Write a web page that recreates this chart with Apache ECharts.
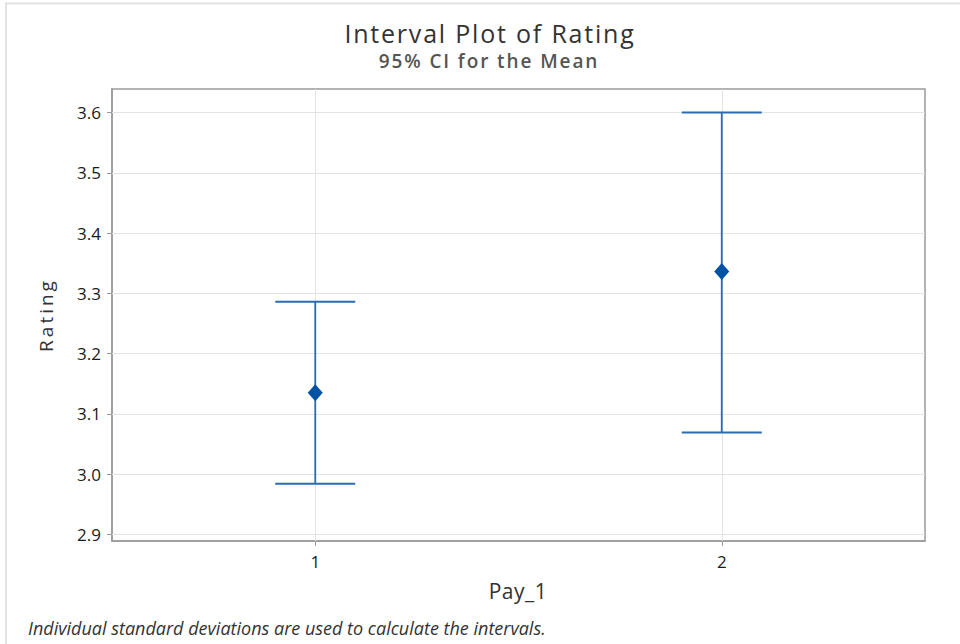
<!DOCTYPE html>
<html>
<head>
<meta charset="utf-8">
<script src="https://cdn.jsdelivr.net/npm/echarts@6/dist/echarts.min.js"></script>
<style>html,body{margin:0;padding:0;background:#fff}#c{width:960px;height:644px}</style>
</head>
<body>
<div id="c"></div>
<script>
const categories = ['1', '2'];
const means = [3.135, 3.336];
const lowers = [2.984, 3.069];
const uppers = [3.286, 3.600];
const yTicks = [2.9, 3.0, 3.1, 3.2, 3.3, 3.4, 3.5, 3.6];
const yMin = 2.889, yMax = 3.639;
const titleText = 'Interval Plot of Rating';
const subtitleText = '95% CI for the Mean';
const xName = 'Pay_1';
const yName = 'Rating';
const footnote = 'Individual standard deviations are used to calculate the intervals.';

const FONT = '"Open Sans", "Noto Sans", sans-serif';
const LINE = '#2a6bb5';
const MARK = '#0053a4';

const chart = echarts.init(document.getElementById('c'), null, { renderer: 'svg' });
const option = {
  animation: false,
  backgroundColor: '#fff',
  grid: { left: 112, right: 35, top: 89, bottom: 103, show: true, borderColor: '#9a9a9a', borderWidth: 1.5, backgroundColor: 'transparent' },
  xAxis: {
    type: 'category', data: categories, boundaryGap: true,
    axisLine: { show: true, lineStyle: { color: '#9a9a9a', width: 1.5 } },
    axisTick: { show: true, alignWithLabel: true, length: 5, lineStyle: { color: '#9a9a9a' } },
    axisLabel: { fontFamily: FONT, fontSize: 17, color: '#1a1a1a', margin: 12 },
    splitLine: { show: false }
  },
  yAxis: {
    type: 'value', min: yMin, max: yMax,
    axisLine: { show: true, lineStyle: { color: '#9a9a9a', width: 1.5 } },
    axisTick: { show: true, length: 5, customValues: yTicks, lineStyle: { color: '#9a9a9a' } },
    axisLabel: { fontFamily: FONT, fontSize: 17, color: '#1a1a1a', margin: 11, customValues: yTicks, formatter: v => v.toFixed(1) },
    splitLine: { show: false }
  },
  series: [
    {
      type: 'line', data: [], silent: true, z: 1,
      markLine: {
        silent: true, symbol: 'none', animation: false, z: 1,
        label: { show: false },
        lineStyle: { color: '#e3e3e3', width: 1, type: 'solid' },
        data: yTicks.map(v => ({ yAxis: v })).concat(categories.map(c => ({ xAxis: c })))
      }
    },
    {
      type: 'custom', z: 6,
      data: categories.map((c, i) => [i, lowers[i], uppers[i]]),
      renderItem: function (params, api) {
        const x = api.value(0);
        const lo = api.coord([x, api.value(1)]);
        const hi = api.coord([x, api.value(2)]);
        const hw = 40;
        const st = { stroke: LINE, lineWidth: 1.8 };
        return {
          type: 'group',
          children: [
            { type: 'line', shape: { x1: lo[0], y1: lo[1], x2: hi[0], y2: hi[1] }, style: st },
            { type: 'line', shape: { x1: lo[0] - hw, y1: lo[1], x2: lo[0] + hw, y2: lo[1] }, style: st },
            { type: 'line', shape: { x1: hi[0] - hw, y1: hi[1], x2: hi[0] + hw, y2: hi[1] }, style: st }
          ]
        };
      }
    },
    {
      type: 'scatter', z: 7, symbol: 'diamond', symbolSize: [15, 17],
      itemStyle: { color: MARK, opacity: 1 },
      data: categories.map((c, i) => [i, means[i]])
    }
  ],
  graphic: [
    { type: 'polyline', shape: { points: [[6, 644], [6, 3.5], [960, 3.5]] }, style: { stroke: '#e2e2e2', lineWidth: 2, fill: null } },
    { type: 'text', x: 490, y: 33, style: { text: titleText, textAlign: 'center', textVerticalAlign: 'middle', font: '25px "Open Sans", "Noto Sans", sans-serif', fill: '#333' } },
    { type: 'text', x: 489, y: 61, style: { text: subtitleText, textAlign: 'center', textVerticalAlign: 'middle', font: '600 19px "Open Sans", "Noto Sans", sans-serif', fill: '#555' } },
    { type: 'text', x: 46, y: 315, rotation: Math.PI / 2, style: { text: yName, textAlign: 'center', textVerticalAlign: 'middle', font: '19px "Open Sans", "Noto Sans", sans-serif', fill: '#333' } },
    { type: 'text', x: 518, y: 591, style: { text: xName, textAlign: 'center', textVerticalAlign: 'middle', font: '21px "Open Sans", "Noto Sans", sans-serif', fill: '#333' } },
    { type: 'text', x: 28, y: 628, style: { text: footnote, textAlign: 'left', textVerticalAlign: 'middle', font: 'italic 18px "Open Sans", "Noto Sans", sans-serif', fill: '#333' } }
  ]
};
chart.setOption(option);

const spacing = {};
spacing[titleText] = '1.8px';
spacing[subtitleText] = '1.9px';
spacing[yName] = '3px';
spacing[xName] = '0.5px';
function applySpacing() {
  document.querySelectorAll('#c svg text').forEach(t => {
    const s = spacing[t.textContent];
    if (s) t.setAttribute('letter-spacing', s);
  });
}
applySpacing();
chart.on('finished', applySpacing);
requestAnimationFrame(applySpacing);
setTimeout(applySpacing, 50);
</script>
</body>
</html>
